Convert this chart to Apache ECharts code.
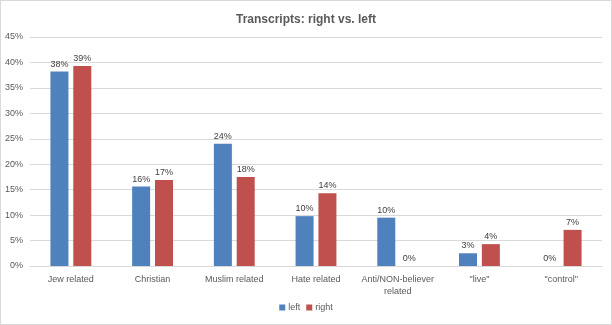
<!DOCTYPE html>
<html>
<head>
<meta charset="utf-8">
<script src="https://cdn.jsdelivr.net/npm/echarts@6/dist/echarts.min.js"></script>
<style>
html,body{margin:0;padding:0;background:#fff;}
#c{width:610px;height:323px;border:1px solid #d9d9d9;}
</style>
</head>
<body>
<div id="c"></div>
<script>
const categories = ["Jew related", "Christian", "Muslim related", "Hate related", "Anti/NON-believer\nrelated", "\"live\"", "\"control\""];
const leftValues = [38.2, 15.6, 24.0, 9.8, 9.5, 2.5, 0];
const rightValues = [39.3, 16.9, 17.5, 14.3, 0, 4.3, 7.1];
const seriesNames = ["left", "right"];
const titleText = "Transcripts: right vs. left";

const chart = echarts.init(document.getElementById('c'), null, {renderer: 'canvas'});
const fontFamily = '"Liberation Sans", "DejaVu Sans", sans-serif';
const labelCfg = {
  show: true, position: 'top', distance: 3,
  color: '#404040', fontSize: 9, fontFamily: fontFamily,
  formatter: p => Math.round(p.value) + '%'
};
chart.setOption({
  animation: false,
  title: {
    text: titleText, left: 'center', top: 8,
    textStyle: {color: '#595959', fontSize: 12, fontWeight: 'bold', fontFamily: fontFamily}
  },
  legend: {
    data: seriesNames, bottom: 7, left: 'center',
    itemWidth: 6, itemHeight: 6, itemGap: 6, icon: 'rect',
    textStyle: {color: '#595959', fontSize: 9, fontFamily: fontFamily, padding: [0,0,0,-2]}
  },
  grid: {left: 29, right: 9, top: 36, bottom: 58, containLabel: false},
  xAxis: {
    type: 'category', data: categories,
    axisLine: {lineStyle: {color: '#d9d9d9'}},
    axisTick: {show: false},
    axisLabel: {color: '#595959', fontSize: 9, fontFamily: fontFamily, margin: 8, interval: 0, lineHeight: 12}
  },
  yAxis: {
    type: 'value', min: 0, max: 45, interval: 5,
    axisLine: {show: false}, axisTick: {show: false},
    splitLine: {lineStyle: {color: '#d9d9d9'}},
    axisLabel: {color: '#595959', fontSize: 9, fontFamily: fontFamily, margin: 7, formatter: '{value}%'}
  },
  series: [
    {name: seriesNames[0], type: 'bar', data: leftValues, barGap: '27%', barCategoryGap: '50%',
     itemStyle: {color: '#4F81BD'}, label: labelCfg},
    {name: seriesNames[1], type: 'bar', data: rightValues, barGap: '27%', barCategoryGap: '50%',
     itemStyle: {color: '#C0504D'}, label: labelCfg}
  ]
});
</script>
</body>
</html>
